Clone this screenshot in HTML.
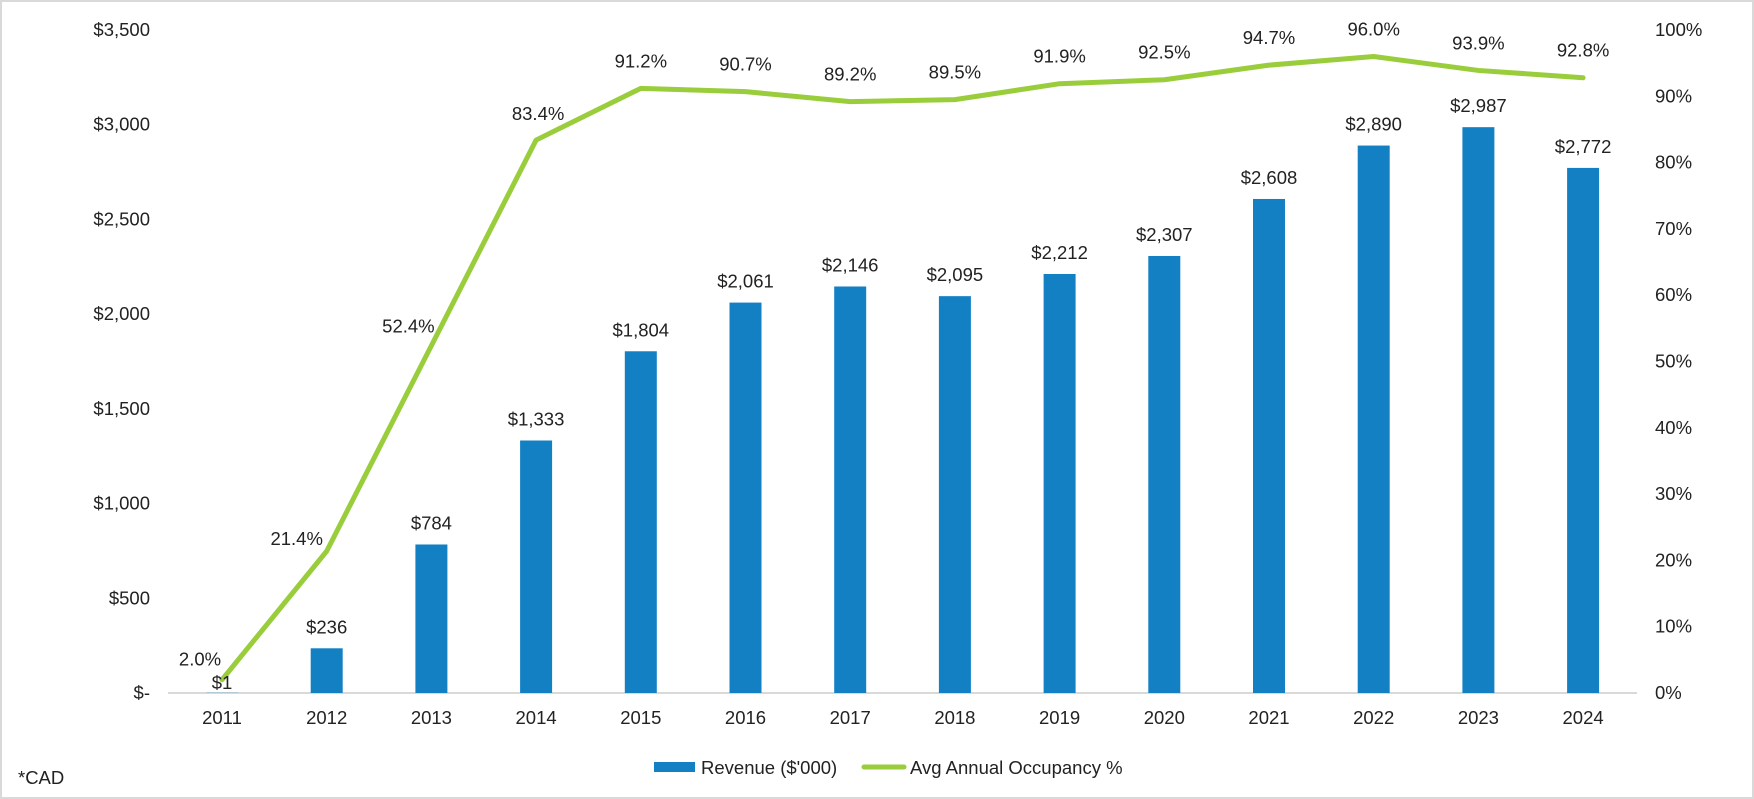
<!DOCTYPE html>
<html><head><meta charset="utf-8"><style>
html,body{margin:0;padding:0;background:#fff}
svg{display:block;font-family:"Liberation Sans",Arial,sans-serif}
</style></head><body>
<svg id="chart" width="1754" height="799" viewBox="0 0 1754 799">
<rect x="1" y="1" width="1752" height="797" fill="#fff" stroke="#d9d9d9" stroke-width="2"/>
<g id="axes"></g><g id="bars"></g><g id="line"></g><g id="labels"></g>
<g>
<rect x="654" y="762" width="41" height="10" fill="#1380c4"/>
<text x="701" y="774" font-size="18.5" fill="#222">Revenue ($'000)</text>
<line x1="864" y1="767" x2="904" y2="767" stroke="#9acd3c" stroke-width="5" stroke-linecap="round"/>
<text x="910" y="774" font-size="18.5" fill="#222">Avg Annual Occupancy %</text>
</g>
<text x="18" y="784" font-size="18.5" fill="#222">*CAD</text>
</svg>
<script>
const years = ["2011","2012","2013","2014","2015","2016","2017","2018","2019","2020","2021","2022","2023","2024"];
const revenue = [1,236,784,1333,1804,2061,2146,2095,2212,2307,2608,2890,2987,2772];
const occupancy = [2.0,21.4,52.4,83.4,91.2,90.7,89.2,89.5,91.9,92.5,94.7,96.0,93.9,92.8];
const leftTicks = [0,500,1000,1500,2000,2500,3000,3500];
const rightTicks = [0,10,20,30,40,50,60,70,80,90,100];

const NS="http://www.w3.org/2000/svg";
const X0=222, DX=104.7, Y0=693, YTOP=30;
const xAt=i=>X0+DX*i;
const yL=v=>Y0-(v/3500)*(Y0-YTOP);
const yR=v=>Y0-(v/100)*(Y0-YTOP);
function mk(tag,attrs,parent,txt){const e=document.createElementNS(NS,tag);for(const k in attrs)e.setAttribute(k,attrs[k]);if(txt!==undefined)e.textContent=txt;parent.appendChild(e);return e;}
const axes=document.getElementById('axes'),bars=document.getElementById('bars'),line=document.getElementById('line'),labels=document.getElementById('labels');
const fmt=v=>v===0?"$-":"$"+v.toLocaleString("en-US");

let el=mk('line',{x1:168,y1:Y0,x2:1637,y2:Y0,stroke:'#d9d9d9','stroke-width':2},axes);


leftTicks.forEach(v=>{
  const t=mk('text',{x:150,y:yL(v)+6,'text-anchor':'end','font-size':18.5,fill:'#222'},axes,fmt(v));
  
  
});
rightTicks.forEach(v=>{
  const t=mk('text',{x:1655,y:yR(v)+6,'font-size':18.5,fill:'#222'},axes,v+"%");
  
  
});
years.forEach((y,i)=>{
  const t=mk('text',{x:xAt(i),y:724,'text-anchor':'middle','font-size':18.5,fill:'#222'},axes,y);
  
  
});
revenue.forEach((v,i)=>{
  const top=yL(v);
  const b=mk('rect',{x:xAt(i)-16,y:top,width:32,height:Y0-top,fill:'#1380c4'},bars);
  
  
  const dy = i===0 ? 10 : 21;
  const t=mk('text',{x:xAt(i),y:top-dy+6,'text-anchor':'middle','font-size':18.5,fill:'#222'},labels,fmt(v));
  
  
});
const pts=occupancy.map((v,i)=>xAt(i)+","+yR(v)).join(" ");
const pl=mk('polyline',{points:pts,fill:'none',stroke:'#9acd3c','stroke-width':5,'stroke-linejoin':'round','stroke-linecap':'round'},line);


const offs=[[-22,-20],[-30,-12],[-23,-19],[2,-26]];
occupancy.forEach((v,i)=>{
  const o=offs[i]||[0,-27];
  const t=mk('text',{x:xAt(i)+o[0],y:yR(v)+o[1]+6,'text-anchor':'middle','font-size':18.5,fill:'#222'},labels,v.toFixed(1)+"%");
  
  
});
</script>
</body></html>
